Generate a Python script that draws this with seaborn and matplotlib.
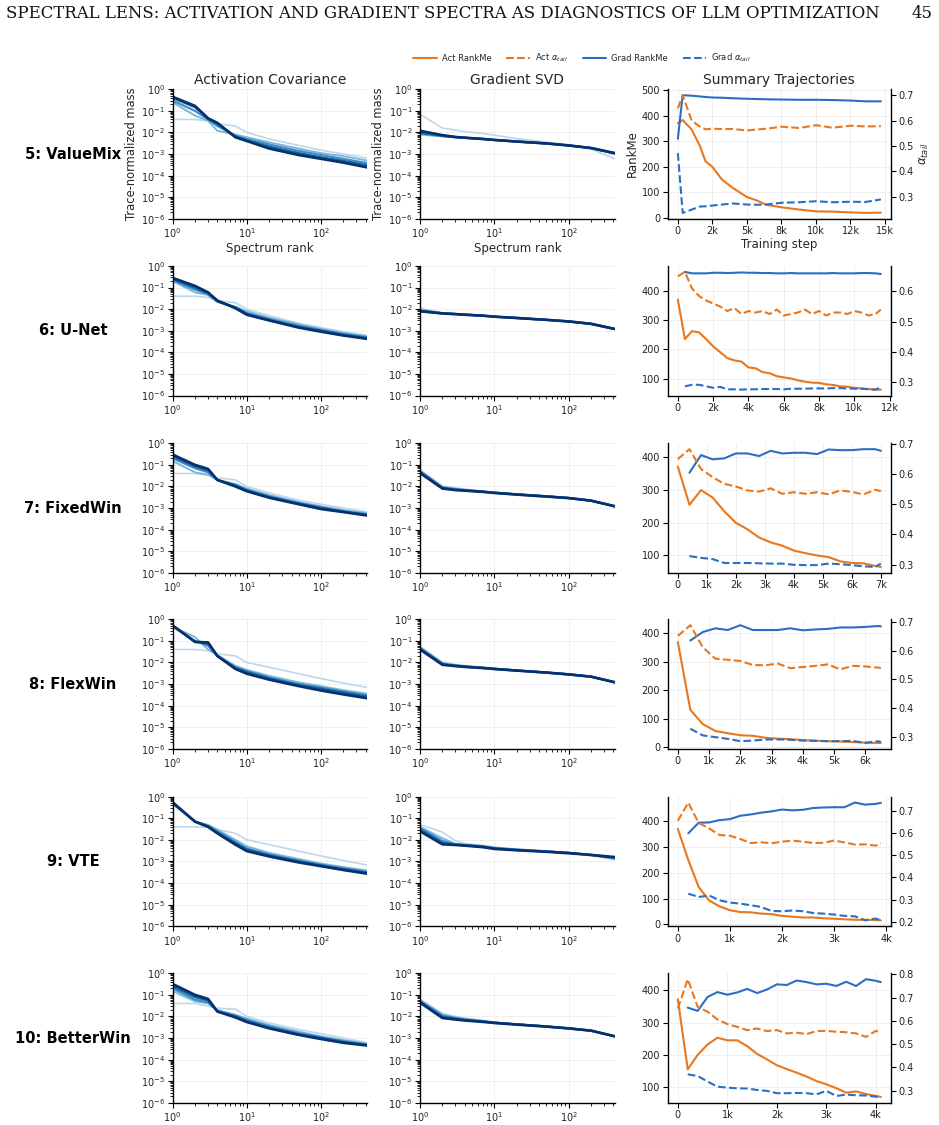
import matplotlib
matplotlib.use("Agg")
import matplotlib.pyplot as plt
from matplotlib.ticker import FuncFormatter, LogLocator, MultipleLocator, NullFormatter
import pandas as pd
import seaborn as sns

RUNS = ["5: ValueMix", "6: U-Net", "7: FixedWin", "8: FlexWin", "9: VTE", "10: BetterWin"]
RANKS = [1, 2, 3, 4, 7, 10, 20, 50, 100, 200, 420]

# activation covariance spectra, early -> late checkpoint
ACT_VALUEMIX = [
    [0.04, 0.04, 0.035, 0.025, 0.02, 0.01, 0.005, 0.0025, 0.0015, 0.001, 0.00065],
    [0.25, 0.06, 0.035, 0.012, 0.008, 0.006, 0.0035, 0.0018, 0.0011, 0.0008, 0.0005],
    [0.3, 0.1, 0.04, 0.02, 0.007, 0.005, 0.0028, 0.0014, 0.0009, 0.0006, 0.00038],
    [0.4, 0.15, 0.045, 0.025, 0.0065, 0.0042, 0.0022, 0.0011, 0.0007, 0.00048, 0.0003],
    [0.45, 0.17, 0.045, 0.028, 0.006, 0.004, 0.0018, 0.0009, 0.0006, 0.0004, 0.00024],
]
ACT_UNET = [
    [0.04, 0.04, 0.035, 0.025, 0.02, 0.01, 0.005, 0.0022, 0.0014, 0.0009, 0.00062],
    [0.2, 0.06, 0.045, 0.022, 0.013, 0.008, 0.004, 0.002, 0.0012, 0.0008, 0.00055],
    [0.22, 0.08, 0.05, 0.022, 0.012, 0.0065, 0.0035, 0.0017, 0.0011, 0.0007, 0.0005],
    [0.25, 0.1, 0.055, 0.024, 0.012, 0.006, 0.0031, 0.0015, 0.001, 0.00065, 0.00046],
    [0.28, 0.12, 0.06, 0.025, 0.011, 0.0055, 0.003, 0.0014, 0.0009, 0.0006, 0.00042],
]
ACT_FIXEDWIN = [
    [0.04, 0.04, 0.033, 0.025, 0.02, 0.01, 0.005, 0.0023, 0.0015, 0.001, 0.00065],
    [0.15, 0.045, 0.035, 0.02, 0.013, 0.008, 0.004, 0.0019, 0.0012, 0.0008, 0.00058],
    [0.2, 0.07, 0.045, 0.02, 0.012, 0.007, 0.0035, 0.0017, 0.0011, 0.00072, 0.00052],
    [0.25, 0.085, 0.055, 0.02, 0.011, 0.0065, 0.0032, 0.0016, 0.001, 0.00068, 0.00048],
    [0.3, 0.1, 0.065, 0.02, 0.01, 0.006, 0.003, 0.0015, 0.0009, 0.00065, 0.00045],
]
ACT_FLEXWIN = [
    [0.04, 0.04, 0.035, 0.025, 0.02, 0.01, 0.006, 0.003, 0.0018, 0.0011, 0.0007],
    [0.45, 0.15, 0.04, 0.022, 0.007, 0.0045, 0.0024, 0.0012, 0.0008, 0.00052, 0.00036],
    [0.47, 0.1, 0.06, 0.02, 0.006, 0.004, 0.002, 0.001, 0.00068, 0.00045, 0.0003],
    [0.5, 0.09, 0.075, 0.02, 0.0055, 0.0035, 0.0018, 0.0009, 0.0006, 0.0004, 0.00026],
    [0.52, 0.09, 0.085, 0.02, 0.005, 0.003, 0.0016, 0.0008, 0.0005, 0.00033, 0.00022],
]
ACT_VTE = [
    [0.04, 0.04, 0.038, 0.03, 0.02, 0.01, 0.006, 0.003, 0.0018, 0.0011, 0.00068],
    [0.45, 0.07, 0.05, 0.03, 0.01, 0.005, 0.0025, 0.0013, 0.0008, 0.00055, 0.00038],
    [0.5, 0.07, 0.045, 0.025, 0.008, 0.004, 0.0021, 0.0011, 0.0007, 0.00048, 0.00033],
    [0.52, 0.07, 0.042, 0.022, 0.007, 0.0035, 0.0019, 0.001, 0.00065, 0.00044, 0.0003],
    [0.55, 0.07, 0.04, 0.02, 0.006, 0.003, 0.0017, 0.0009, 0.0006, 0.0004, 0.00027],
]
ACT_BETTERWIN = [
    [0.04, 0.04, 0.03, 0.024, 0.022, 0.01, 0.005, 0.0025, 0.0016, 0.001, 0.0006],
    [0.15, 0.05, 0.04, 0.02, 0.012, 0.008, 0.004, 0.002, 0.0012, 0.0008, 0.00055],
    [0.2, 0.06, 0.045, 0.018, 0.011, 0.007, 0.0035, 0.0017, 0.0011, 0.00072, 0.0005],
    [0.25, 0.08, 0.055, 0.017, 0.01, 0.006, 0.003, 0.0015, 0.001, 0.00065, 0.00047],
    [0.32, 0.1, 0.065, 0.017, 0.009, 0.0055, 0.0028, 0.0014, 0.0009, 0.0006, 0.00045],
]

# gradient singular value spectra, early -> late checkpoint
GRAD_VALUEMIX = [
    [0.07, 0.016, 0.013, 0.011, 0.009, 0.0075, 0.0052, 0.0036, 0.0027, 0.0017, 0.0006],
    [0.008, 0.0065, 0.006, 0.0056, 0.005, 0.0045, 0.0038, 0.0031, 0.0025, 0.0019, 0.001],
    [0.009, 0.0068, 0.006, 0.0057, 0.005, 0.0045, 0.0038, 0.0031, 0.0025, 0.0019, 0.00105],
    [0.01, 0.0072, 0.0061, 0.0057, 0.005, 0.0045, 0.0038, 0.0031, 0.0025, 0.0019, 0.0011],
    [0.012, 0.0075, 0.0062, 0.0057, 0.005, 0.0045, 0.0038, 0.0031, 0.0025, 0.0019, 0.0011],
]
GRAD_UNET = [
    [0.011, 0.0068, 0.0061, 0.0057, 0.005, 0.0045, 0.0039, 0.0032, 0.0027, 0.002, 0.0012],
    [0.0095, 0.0066, 0.006, 0.0056, 0.005, 0.0045, 0.0039, 0.0032, 0.0027, 0.002, 0.0012],
    [0.0088, 0.0065, 0.006, 0.0056, 0.005, 0.0045, 0.0039, 0.0032, 0.0027, 0.0021, 0.0012],
    [0.0082, 0.0064, 0.0059, 0.0056, 0.005, 0.0045, 0.0039, 0.0032, 0.0027, 0.0021, 0.0012],
    [0.008, 0.0063, 0.0059, 0.0055, 0.005, 0.0045, 0.0039, 0.0032, 0.0027, 0.0021, 0.0012],
]
GRAD_FIXEDWIN = [
    [0.06, 0.0105, 0.0085, 0.0075, 0.006, 0.0054, 0.0045, 0.0036, 0.003, 0.0022, 0.0012],
    [0.055, 0.0095, 0.008, 0.007, 0.006, 0.0053, 0.0044, 0.0035, 0.003, 0.0022, 0.0012],
    [0.05, 0.009, 0.0075, 0.0068, 0.0058, 0.0052, 0.0043, 0.0035, 0.0029, 0.0022, 0.0012],
    [0.046, 0.0085, 0.007, 0.0066, 0.0057, 0.0051, 0.0043, 0.0035, 0.0029, 0.0022, 0.0012],
    [0.042, 0.008, 0.0068, 0.0064, 0.0056, 0.005, 0.0042, 0.0034, 0.0029, 0.0022, 0.0012],
]
GRAD_FLEXWIN = [
    [0.055, 0.0105, 0.008, 0.0072, 0.006, 0.0053, 0.0044, 0.0035, 0.0029, 0.0022, 0.0012],
    [0.05, 0.0095, 0.0075, 0.0068, 0.0058, 0.0052, 0.0043, 0.0035, 0.0029, 0.0022, 0.0012],
    [0.047, 0.0088, 0.0072, 0.0066, 0.0057, 0.0051, 0.0043, 0.0034, 0.0028, 0.0022, 0.0012],
    [0.044, 0.0082, 0.007, 0.0064, 0.0056, 0.005, 0.0042, 0.0034, 0.0028, 0.0022, 0.0012],
    [0.04, 0.0078, 0.0068, 0.0062, 0.0055, 0.005, 0.0042, 0.0034, 0.0028, 0.0022, 0.0012],
]
GRAD_VTE = [
    [0.05, 0.023, 0.009, 0.0068, 0.0055, 0.0046, 0.0038, 0.003, 0.0026, 0.0019, 0.0012],
    [0.04, 0.012, 0.0065, 0.006, 0.0052, 0.0044, 0.0036, 0.003, 0.0025, 0.002, 0.0013],
    [0.035, 0.009, 0.0062, 0.0058, 0.005, 0.0042, 0.0035, 0.0029, 0.0025, 0.002, 0.0014],
    [0.03, 0.0072, 0.006, 0.0056, 0.0048, 0.004, 0.0034, 0.0029, 0.0025, 0.002, 0.0015],
    [0.025, 0.0062, 0.0058, 0.0054, 0.0046, 0.0038, 0.0033, 0.0028, 0.0024, 0.002, 0.0016],
]
GRAD_BETTERWIN = [
    [0.065, 0.014, 0.01, 0.0085, 0.0065, 0.0055, 0.0044, 0.0035, 0.0029, 0.0022, 0.0012],
    [0.058, 0.012, 0.009, 0.0078, 0.0062, 0.0053, 0.0044, 0.0035, 0.0029, 0.0022, 0.0012],
    [0.052, 0.011, 0.0085, 0.0072, 0.006, 0.0052, 0.0043, 0.0035, 0.0028, 0.0022, 0.0012],
    [0.048, 0.0095, 0.0078, 0.0068, 0.0058, 0.0051, 0.0043, 0.0034, 0.0028, 0.0022, 0.0012],
    [0.044, 0.0085, 0.0072, 0.0065, 0.0056, 0.005, 0.0042, 0.0034, 0.0028, 0.0022, 0.0012],
]

# summary trajectories
STEPS_VALUEMIX = [0, 350, 1000, 1600, 2000, 2500, 3200, 4000, 5000, 5700, 6400, 7500, 8800, 10000, 11200, 12500, 13600, 14700]
ACT_RANKME_VALUEMIX = [370, 383, 346, 281, 222, 200, 150, 117, 82, 69, 52, 42, 33, 26, 25, 22, 20, 21]
ACT_ALPHA_VALUEMIX = [0.648, 0.70, 0.60, 0.576, 0.566, 0.568, 0.567, 0.567, 0.561, 0.565, 0.568, 0.576, 0.571, 0.582, 0.572, 0.58, 0.577, 0.578]
GRAD_RANKME_VALUEMIX = [310, 480, 478, 475, 473, 471, 470, 468, 466, 465, 464, 463, 462, 462, 461, 459, 456, 456]
GRAD_ALPHA_VALUEMIX = [0.472, 0.237, 0.25, 0.262, 0.263, 0.266, 0.27, 0.274, 0.27, 0.269, 0.27, 0.277, 0.279, 0.283, 0.279, 0.281, 0.28, 0.29]

STEPS_UNET = [0, 400, 800, 1200, 1600, 2000, 2400, 2800, 3200, 3600, 4000, 4400, 4800, 5200, 5600,
              6000, 6400, 6800, 7200, 7600, 8000, 8400, 8800, 9200, 9600, 10000, 10400, 10800, 11200, 11500]
ACT_RANKME_UNET = [370, 235, 262, 258, 235, 210, 190, 170, 162, 158, 138, 135, 122, 118, 108,
                   104, 100, 94, 89, 86, 85, 80, 78, 73, 72, 68, 66, 64, 62, 62]
ACT_ALPHA_UNET = [0.65, 0.665, 0.61, 0.585, 0.57, 0.56, 0.55, 0.535, 0.545, 0.525, 0.535, 0.53, 0.535, 0.525, 0.54,
                  0.52, 0.525, 0.53, 0.54, 0.525, 0.535, 0.52, 0.53, 0.53, 0.525, 0.535, 0.53, 0.52, 0.525, 0.54]
GRAD_RANKME_UNET = [None, 465, 460, 460, 460, 462, 462, 461, 462, 463, 462, 462, 461, 461, 460,
                    460, 461, 460, 460, 460, 460, 460, 461, 460, 460, 460, 461, 461, 460, 458]
GRAD_ALPHA_UNET = [None, 0.285, 0.29, 0.29, 0.285, 0.28, 0.283, 0.275, 0.275, 0.274, 0.275, 0.275, 0.276, 0.276, 0.276,
                   0.275, 0.277, 0.277, 0.277, 0.278, 0.278, 0.278, 0.279, 0.279, 0.278, 0.277, 0.277, 0.275, 0.274, 0.282]

STEPS_FIXEDWIN = [0, 400, 800, 1200, 1600, 2000, 2400, 2800, 3200, 3600, 4000, 4400, 4800, 5200, 5600, 6000, 6400, 6800, 7000]
ACT_RANKME_FIXEDWIN = [372, 255, 300, 277, 235, 200, 180, 155, 140, 130, 115, 107, 100, 95, 82, 77, 76, 68, 65]
ACT_ALPHA_FIXEDWIN = [0.65, 0.683, 0.617, 0.59, 0.568, 0.559, 0.546, 0.542, 0.553, 0.535, 0.54, 0.535, 0.54, 0.533, 0.546, 0.541, 0.533, 0.548, 0.544]
GRAD_RANKME_FIXEDWIN = [None, 353, 407, 394, 397, 412, 412, 404, 420, 412, 414, 414, 410, 424, 422, 422, 425, 425, 420]
GRAD_ALPHA_FIXEDWIN = [None, 0.328, 0.322, 0.318, 0.305, 0.305, 0.305, 0.304, 0.303, 0.303, 0.299, 0.298, 0.298, 0.303, 0.301, 0.298, 0.294, 0.292, 0.303]

STEPS_FLEXWIN = [0, 400, 800, 1200, 1600, 2000, 2400, 2800, 3200, 3600, 4000, 4400, 4800, 5200, 5600, 6000, 6400, 6500]
ACT_RANKME_FLEXWIN = [370, 131, 81, 57, 49, 42, 40, 33, 30, 28, 25, 23, 21, 20, 18, 16, 15, 15]
ACT_ALPHA_FLEXWIN = [0.651, 0.688, 0.611, 0.572, 0.568, 0.564, 0.55, 0.549, 0.555, 0.539, 0.543, 0.547, 0.552, 0.535, 0.547, 0.545, 0.541, 0.54]
GRAD_RANKME_FLEXWIN = [None, 375, 405, 418, 412, 429, 412, 412, 412, 418, 411, 414, 416, 421, 421, 423, 426, 425]
GRAD_ALPHA_FLEXWIN = [None, 0.329, 0.306, 0.3, 0.294, 0.286, 0.288, 0.292, 0.292, 0.291, 0.288, 0.287, 0.286, 0.286, 0.287, 0.28, 0.286, 0.283]

STEPS_VTE = [0, 200, 400, 600, 800, 1000, 1200, 1400, 1600, 1800, 2000, 2200, 2400, 2600, 2800, 3000, 3200, 3400, 3600, 3800, 3900]
ACT_RANKME_VTE = [370, 250, 145, 93, 70, 55, 48, 47, 42, 40, 33, 30, 27, 27, 24, 22, 20, 18, 18, 17, 16]
ACT_ALPHA_VTE = [0.655, 0.737, 0.645, 0.621, 0.591, 0.588, 0.573, 0.555, 0.558, 0.554, 0.561, 0.566, 0.561, 0.555, 0.556, 0.566, 0.558, 0.548, 0.549, 0.543, 0.554]
GRAD_RANKME_VTE = [None, 353, 394, 395, 404, 408, 421, 426, 433, 438, 445, 442, 444, 451, 453, 454, 454, 472, 464, 467, 471]
GRAD_ALPHA_VTE = [None, 0.327, 0.312, 0.319, 0.297, 0.287, 0.282, 0.275, 0.267, 0.249, 0.248, 0.251, 0.248, 0.24, 0.237, 0.233, 0.227, 0.225, 0.207, 0.215, 0.207]

STEPS_BETTERWIN = [0, 200, 400, 600, 800, 1000, 1200, 1400, 1600, 1800, 2000, 2200, 2400, 2600, 2800, 3000, 3200, 3400, 3600, 3800, 4000, 4100]
ACT_RANKME_BETTERWIN = [372, 155, 200, 232, 253, 245, 245, 227, 203, 186, 168, 156, 145, 133, 119, 109, 97, 83, 87, 79, 73, 70]
ACT_ALPHA_BETTERWIN = [0.653, 0.779, 0.66, 0.639, 0.606, 0.586, 0.574, 0.56, 0.567, 0.556, 0.56, 0.546, 0.549, 0.543, 0.556, 0.557, 0.553, 0.551, 0.546, 0.531, 0.557, 0.549]
GRAD_RANKME_BETTERWIN = [None, 346, 336, 379, 394, 386, 393, 404, 391, 402, 418, 416, 430, 425, 418, 420, 413, 426, 413, 434, 429, 425]
GRAD_ALPHA_BETTERWIN = [None, 0.37, 0.363, 0.339, 0.317, 0.313, 0.31, 0.309, 0.303, 0.299, 0.289, 0.289, 0.29, 0.289, 0.284, 0.299, 0.277, 0.283, 0.28, 0.279, 0.274, 0.273]

ACT_SPECTRA = [ACT_VALUEMIX, ACT_UNET, ACT_FIXEDWIN, ACT_FLEXWIN, ACT_VTE, ACT_BETTERWIN]
GRAD_SPECTRA = [GRAD_VALUEMIX, GRAD_UNET, GRAD_FIXEDWIN, GRAD_FLEXWIN, GRAD_VTE, GRAD_BETTERWIN]
TRAJ = [
    (STEPS_VALUEMIX, ACT_RANKME_VALUEMIX, ACT_ALPHA_VALUEMIX, GRAD_RANKME_VALUEMIX, GRAD_ALPHA_VALUEMIX),
    (STEPS_UNET, ACT_RANKME_UNET, ACT_ALPHA_UNET, GRAD_RANKME_UNET, GRAD_ALPHA_UNET),
    (STEPS_FIXEDWIN, ACT_RANKME_FIXEDWIN, ACT_ALPHA_FIXEDWIN, GRAD_RANKME_FIXEDWIN, GRAD_ALPHA_FIXEDWIN),
    (STEPS_FLEXWIN, ACT_RANKME_FLEXWIN, ACT_ALPHA_FLEXWIN, GRAD_RANKME_FLEXWIN, GRAD_ALPHA_FLEXWIN),
    (STEPS_VTE, ACT_RANKME_VTE, ACT_ALPHA_VTE, GRAD_RANKME_VTE, GRAD_ALPHA_VTE),
    (STEPS_BETTERWIN, ACT_RANKME_BETTERWIN, ACT_ALPHA_BETTERWIN, GRAD_RANKME_BETTERWIN, GRAD_ALPHA_BETTERWIN),
]
STEP_TICKS = [2500, 2000, 1000, 1000, 1000, 1000]

ORANGE = "#E8771E"
BLUE = "#2C6EC4"
GRID = "#ECECEC"

W, H = 939, 1125
COL_X = [(172.7, 367.3), (420.0, 615.0), (667.7, 891.0)]
ROW_TOP = [89.3, 266.0, 443.3, 619.3, 796.7, 973.3]
ROW_H = 129.5


def axes_at(fig, col, row):
    x0, x1 = COL_X[col]
    top = ROW_TOP[row]
    return fig.add_axes([x0 / W, 1 - (top + ROW_H) / H, (x1 - x0) / W, ROW_H / H])


def style_axes(ax):
    ax.grid(True, which="major", color=GRID, linewidth=0.6)
    ax.set_axisbelow(True)
    for side in ["top", "right"]:
        ax.spines[side].set_visible(False)
    for side in ["left", "bottom"]:
        ax.spines[side].set_color("black")
        ax.spines[side].set_linewidth(1.0)
    ax.tick_params(which="major", labelsize=7, length=3.5, width=0.8, color="black",
                   labelcolor="#222222", pad=2)
    ax.tick_params(which="minor", length=2, width=0.6, color="black")


def spectrum_panel(ax, lines):
    n = len(lines)
    rows = []
    for i, vals in enumerate(lines):
        for r, v in zip(RANKS, vals):
            rows.append({"rank": r, "mass": v, "ckpt": f"c{i}"})
    df = pd.DataFrame(rows)
    blues = sns.color_palette("Blues", as_cmap=True)
    palette = {f"c{i}": blues(0.28 + 0.72 * i / (n - 1)) for i in range(n)}
    sizes = {f"c{i}": 1.2 + 0.7 * i / (n - 1) for i in range(n)}
    sns.lineplot(data=df, x="rank", y="mass", hue="ckpt", size="ckpt", palette=palette,
                 sizes=sizes, legend=False, errorbar=None, ax=ax)
    ax.set_xscale("log")
    ax.set_yscale("log")
    ax.set_xlim(RANKS[0], RANKS[-1])
    ax.set_ylim(1e-6, 1)
    ax.set_yticks([10.0 ** k for k in range(-6, 1)])
    ax.yaxis.set_minor_locator(LogLocator(base=10, subs=range(2, 10), numticks=20))
    ax.yaxis.set_minor_formatter(NullFormatter())
    ax.xaxis.set_minor_locator(LogLocator(base=10, subs=range(2, 10), numticks=20))
    ax.xaxis.set_minor_formatter(NullFormatter())
    ax.set_xlabel("")
    ax.set_ylabel("")
    style_axes(ax)


def step_label(x, _pos):
    if x == 0:
        return "0"
    return f"{x / 1000:.0f}k"


def trajectory_panel(ax, series, tick_step):
    steps, act_r, act_a, grad_r, grad_a = series
    df = pd.DataFrame({"step": steps, "act_r": act_r, "act_a": act_a,
                       "grad_r": grad_r, "grad_a": grad_a}).astype(float)
    ax2 = ax.twinx()
    sns.lineplot(data=df, x="step", y="act_r", color=ORANGE, lw=1.5, ax=ax, label="Act RankMe", legend=False)
    sns.lineplot(data=df, x="step", y="grad_r", color=BLUE, lw=1.5, ax=ax, label="Grad RankMe", legend=False)
    sns.lineplot(data=df, x="step", y="act_a", color=ORANGE, lw=1.5, ls="--", ax=ax2,
                 label=r"Act $\alpha_{tail}$", legend=False)
    sns.lineplot(data=df, x="step", y="grad_a", color=BLUE, lw=1.5, ls="--", ax=ax2,
                 label=r"Grad $\alpha_{tail}$", legend=False)
    ax.xaxis.set_major_locator(MultipleLocator(tick_step))
    ax.xaxis.set_major_formatter(FuncFormatter(step_label))
    ax.set_xlabel("")
    ax.set_ylabel("")
    ax2.set_ylabel("")
    style_axes(ax)
    ax2.grid(False)
    ax2.spines["top"].set_visible(False)
    ax2.spines["left"].set_visible(False)
    ax2.spines["bottom"].set_visible(False)
    ax2.spines["right"].set_color("black")
    ax2.spines["right"].set_linewidth(1.0)
    ax2.tick_params(labelsize=7, length=3.5, width=0.8, color="black", labelcolor="#222222", pad=2)
    return ax2


def main():
    sns.set_theme(style="ticks")
    plt.rcParams["font.family"] = ["DejaVu Sans"]
    plt.rcParams["mathtext.fontset"] = "dejavusans"
    fig = plt.figure(figsize=(W / 100, H / 100), dpi=100)

    fig.text(6 / W, 1 - 13 / H, "SPECTRAL LENS: ACTIVATION AND GRADIENT SPECTRA AS DIAGNOSTICS OF LLM OPTIMIZATION",
             family=["DejaVu Serif"], fontsize=11.9, ha="left", va="center", color="#111111")
    fig.text(932 / W, 1 - 13 / H, "45", family=["DejaVu Serif"], fontsize=11.9, ha="right", va="center",
             color="#111111")

    handles = None
    for row in range(6):
        ax_a = axes_at(fig, 0, row)
        spectrum_panel(ax_a, ACT_SPECTRA[row])
        ax_g = axes_at(fig, 1, row)
        spectrum_panel(ax_g, GRAD_SPECTRA[row])
        ax_t = axes_at(fig, 2, row)
        ax_t2 = trajectory_panel(ax_t, TRAJ[row], STEP_TICKS[row])

        fig.text(73 / W, 1 - (ROW_TOP[row] + ROW_H / 2) / H, RUNS[row],
                 fontsize=10.5, fontweight="bold", ha="center", va="center", color="black")

        if row == 0:
            ax_a.set_title("Activation Covariance", fontsize=10, pad=4)
            ax_g.set_title("Gradient SVD", fontsize=10, pad=4)
            ax_t.set_title("Summary Trajectories", fontsize=10, pad=4)
            for ax in (ax_a, ax_g):
                ax.set_ylabel("Trace-normalized mass", fontsize=8.3, labelpad=2)
                ax.set_xlabel("Spectrum rank", fontsize=8.5, labelpad=1)
            ax_t.set_ylabel("RankMe", fontsize=8.5, labelpad=2)
            ax_t.set_xlabel("Training step", fontsize=8.5, labelpad=1)
            ax_t2.set_ylabel(r"$\alpha_{tail}$", fontsize=8.5, labelpad=3)
            h1, l1 = ax_t.get_legend_handles_labels()
            h2, l2 = ax_t2.get_legend_handles_labels()
            handles = ([h1[0], h2[0], h1[1], h2[1]], [l1[0], l2[0], l1[1], l2[1]])

    fig.legend(handles[0], handles[1], loc="center", bbox_to_anchor=(582 / W, 1 - 58 / H),
               ncol=4, frameon=False, fontsize=6, handlelength=2.8, columnspacing=1.8,
               handletextpad=0.6)
    fig.savefig("out.png", dpi=100, facecolor="white")


if __name__ == "__main__":
    main()
